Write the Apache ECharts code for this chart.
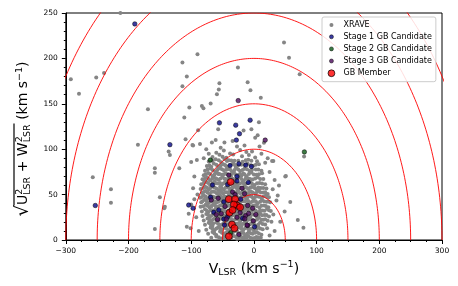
<!DOCTYPE html>
<html><head><meta charset="utf-8">
<script src="https://cdn.jsdelivr.net/npm/echarts@6/dist/echarts.min.js"></script>
<style>html,body{margin:0;padding:0;background:#fff}#c{width:458px;height:286px}</style>
</head><body><div id="c"></div>
<script>
// ---- axis ticks ----
const xTicks = [-300, -200, -100, 0, 100, 200, 300];
const yTicks = [0, 50, 100, 150, 200, 250];
// Toomre circles (constant total velocity), km/s
const circleRadii = [50, 100, 150, 200, 250, 300, 350];

// ---- series values: [V_LSR, sqrt(U^2+W^2)] ----
const xraveOutliers = [
  [-292,177],[-279,161],[-251.5,179],[-239,184],[-213,250],[-169,144],[-185,105],[-257,69],[-228,56],[-228,41],
  [-158,79],[-158,74],[-150,47],[-158,12],[-103,146],[-111,135],[-136,97.5],[-134,93.5],[-98,104.5],[-100,86],
  [-119,79],[-143,35],[-142,36.5],[-100,39],[-104,29],[-107,14.6],[-101,13],[-97,57],[-114,195.5],[-107,180],
  [-114,169.4],[-25.5,190],[73,182.6],[-55,172.7],[-10,173.8],[-56,165.7],[-5.5,165],[-59,160.6],[11,156.6],[-69,150.4],
  [-83,147.7],[-80.5,145],[8,129.8],[-57,122],[-89,121],[-16.5,120.6],[-4,122],[6,115.5],[-67,107.5],[-86,105.6],
  [-97,104],[-47,107.5],[-34,109],[-53,101.6],[-76,100],[9,103],[16,107],[2,112.5],[48,217.5],[56,200.6],
  [80,92],[31,87],[50,70],[51,70.5],[36,43.6],[49,31.5],[33,10],[-90,204.6],[29,87],[79,13.5],
  [58,41.8],[70,22],[22,90],[25,75],[40,60],[30,56],[31,28],[42,20],[38,49],[-95,70],
  [-92,25],[-90,50],[28,20],[-88,10],[25,5],[-95,45],[18,85],[-80,90],[-72,95],[12,95],
  [-109,111],[-91,88],[-27,103],[-15,104],[-61,110],[33,66]
];
const xraveCore = [
  [-60,96.2],[-48,98.5],[-38,95.4],[-22,99.1],[-12,96.8],[-3,97.6],
  [-66,91.3],[-55,93.8],[-44,90.6],[-33,94.2],[-19,92.1],[-8,93.5],[2,90.9],[-50,91.7],
  [-72,86.4],[-61,88.9],[-52,85.7],[-47,89.3],[-31,87.2],[-18,86.1],[-9,88.4],[5,86.8],[-40,87.9],
  [-75,81.6],[-64,84.2],[-57,80.9],[-49,83.5],[-44,81.2],[-33,84.7],[-29,80.4],[-20,82.8],[-10,84.1],[-1,81.9],[8,83.3],[-68,80.7],
  [-78,76.3],[-70,78.8],[-62,75.6],[-54,79.1],[-48,76.9],[-41,78.2],[-35,75.4],[-28,79.6],[-22,76.1],[-15,78.5],[-7,75.9],[3,77.7],[12,76.4],[-58,77.3],
  [-80,71.2],[-73,73.9],[-66,70.5],[-59,74.1],[-51,71.8],[-45,73.3],[-38,70.9],[-32,74.6],[-25,71.5],[-17,73.1],[-12,70.3],[-4,74.4],[4,71.9],[13,73.6],[-55,72.6],[-20,70.8],
  [-82,66.8],[-75,69.2],[-69,65.5],[-61,68.1],[-56,66.3],[-50,69.6],[-43,65.9],[-36,68.7],[-30,66.1],[-23,69.3],[-16,65.4],[-9,67.8],[-2,66.5],[6,69.1],[15,67.2],[-64,68.9],[-47,67.4],
  [-84,61.5],[-76,63.8],[-70,60.7],[-63,64.2],[-57,62.1],[-52,60.3],[-46,63.6],[-39,61.2],[-33,64.6],[-26,60.9],[-19,63.1],[-14,61.8],[-6,64.3],[1,60.6],[9,62.7],[18,61.4],[-79,64.5],[-30,62.4],
  [-85,56.2],[-78,58.7],[-72,55.5],[-66,59.1],[-60,56.8],[-54,58.3],[-48,55.7],[-42,59.4],[-37,56.5],[-31,58.9],[-25,55.3],[-20,57.6],[-15,59.7],[-9,56.1],[-3,58.4],[4,55.9],[11,57.3],[20,56.6],[-57,55.1],[-27,59.2],
  [-83,51.8],[-77,54.1],[-71,50.6],[-65,53.4],[-59,51.2],[-53,54.6],[-49,50.9],[-43,52.7],[-38,54.3],[-32,50.5],[-27,53.1],[-22,51.6],[-17,54.8],[-11,50.8],[-5,53.7],[2,51.3],[8,54.2],[15,52.4],[22,50.7],[-62,52.9],[-36,51.5],[-8,52.2],
  [-86,46.4],[-80,48.9],[-74,45.6],[-68,48.2],[-62,46.9],[-55,49.5],[-51,45.8],[-46,47.7],[-40,49.2],[-35,46.1],[-29,48.6],[-24,45.4],[-19,47.9],[-13,46.7],[-7,49.4],[-1,45.9],[5,48.1],[12,46.3],[19,49.1],[24,47.2],[-44,45.3],[-15,49.8],
  [-84,41.7],[-79,44.3],[-72,40.8],[-66,43.5],[-60,41.2],[-54,44.1],[-49,40.6],[-45,42.9],[-38,44.6],[-33,41.4],[-28,43.8],[-22,40.9],[-17,42.6],[-12,44.7],[-6,41.1],[0,43.2],[6,40.5],[13,44.4],[20,42.1],[26,41.6],[-57,42.8],[-25,44.2],
  [-85,36.6],[-77,38.9],[-71,35.7],[-65,39.3],[-59,36.2],[-53,38.4],[-47,35.5],[-41,37.8],[-36,39.6],[-31,36.4],[-26,38.7],[-20,35.9],[-15,37.5],[-10,39.1],[-4,36.8],[2,38.3],[9,35.4],[16,37.9],[23,36.1],[-68,37.2],[-43,39.8],[-8,35.2],
  [-83,31.4],[-78,33.9],[-73,30.6],[-66,32.8],[-61,34.5],[-55,31.1],[-50,33.6],[-44,30.4],[-38,32.9],[-33,34.7],[-27,31.3],[-23,33.2],[-18,30.8],[-12,34.1],[-6,31.7],[0,33.4],[7,30.5],[14,32.6],[21,34.3],[27,31.9],[-48,31.8],[-15,33.7],
  [-82,26.3],[-76,28.6],[-70,25.7],[-64,29.2],[-58,26.9],[-52,28.1],[-47,25.4],[-41,29.5],[-35,26.6],[-29,28.8],[-24,25.9],[-19,29.4],[-14,27.1],[-8,25.5],[-2,28.7],[4,26.2],[10,29.1],[17,27.6],[24,25.8],[-61,27.8],[-32,29.7],
  [-80,21.5],[-74,23.8],[-68,20.6],[-62,24.3],[-56,21.9],[-50,23.2],[-45,20.8],[-39,24.6],[-33,21.4],[-28,23.6],[-22,20.3],[-17,24.1],[-11,21.8],[-5,23.4],[1,20.9],[8,24.4],[15,22.2],[22,21.1],[-53,24.8],[-36,22.7],[-20,22.9],
  [-78,16.7],[-72,18.9],[-66,15.6],[-60,19.2],[-54,16.3],[-48,18.5],[-43,15.9],[-37,19.6],[-31,16.8],[-26,18.1],[-20,15.4],[-15,19.3],[-9,16.5],[-3,18.7],[3,15.8],[10,19.4],[18,17.2],[-65,18.1],[-41,17.4],[-12,17.9],
  [-76,11.4],[-69,13.8],[-63,10.7],[-57,14.1],[-51,11.9],[-46,13.3],[-40,10.5],[-34,14.4],[-28,11.6],[-23,13.9],[-17,10.9],[-12,14.6],[-6,12.2],[0,10.3],[7,13.7],[14,11.8],[21,12.9],[-60,12.6],[-30,13.1],
  [-73,6.8],[-66,8.9],[-60,5.6],[-54,9.3],[-48,6.4],[-42,8.6],[-37,5.9],[-31,9.5],[-25,6.7],[-20,8.2],[-14,5.3],[-8,9.1],[-2,6.9],[5,8.4],[12,5.8],[-45,7.7],[-27,9.8],
  [-68,2.4],[-60,3.9],[-52,1.6],[-45,4.2],[-39,2.1],[-33,4.6],[-27,1.3],[-21,3.5],[-15,2.8],[-9,4.4],[-3,1.9],[4,3.2],[11,2.6],[-48,3.1],[-30,3.8]
];
const xraveCoreFill = [
  [-56,2.9],[-42,2.4],[-36,2.8],[-24,2.2],[-18,2.7],[-12,2.1],[-6,2.6],[1,2.3],[7,2.8],
  [-63,7.2],[-51,7.9],[-40,7.1],[-34,7.6],[-23,7.3],[-17,7.8],[-11,7.0],[-5,7.5],[2,7.9],[8,7.2],
  [-66,12.4],[-54,12.8],[-43,12.1],[-37,12.7],[-31,11.9],[-20,12.5],[-14,12.9],[-9,12.0],[-3,12.6],[4,12.3],[10,12.7],
  [-69,17.3],[-57,17.9],[-51,17.1],[-45,17.7],[-34,17.2],[-28,17.8],[-23,17.0],[-18,17.6],[-6,17.3],[0,17.9],[7,17.2],[14,17.6],
  [-71,22.4],[-65,22.8],[-59,22.1],[-47,22.6],[-42,22.0],[-30,22.5],[-25,22.9],[-14,22.2],[-8,22.7],[-2,22.1],[5,22.6],[12,22.3],[18,22.8],
  [-73,27.6],[-67,27.2],[-55,27.9],[-49,27.3],[-44,27.7],[-38,27.1],[-32,27.5],[-27,27.0],[-21,27.8],[-16,27.3],[-11,27.7],[-5,27.1],[1,27.5],[7,27.9],[13,27.2],[20,27.6],
  [-75,32.3],[-69,32.7],[-63,32.1],[-58,32.9],[-53,32.4],[-47,32.0],[-41,32.6],[-35,32.2],[-30,32.8],[-25,32.3],[-20,32.7],[-15,32.0],[-9,32.5],[-3,32.9],[3,32.2],[10,32.6],[17,32.1],[24,32.9],
  [-81,37.2],[-74,37.8],[-68,37.3],[-62,37.9],[-56,37.1],[-50,37.6],[-44,37.2],[-38,37.9],[-33,37.4],[-29,37.0],[-23,37.7],[-18,37.3],[-12,37.9],[-7,37.2],[-1,37.6],[5,37.1],[12,37.8],[19,37.4],
  [-82,42.6],[-75,42.2],[-69,42.9],[-63,42.4],[-57,42.0],[-51,42.7],[-47,42.3],[-41,42.8],[-36,42.1],[-30,42.6],[-25,42.0],[-19,42.8],[-14,42.3],[-9,42.9],[-3,42.2],[3,42.7],[10,42.1],[16,42.8],[23,42.4],
  [-83,47.3],[-77,47.8],[-71,47.1],[-65,47.6],[-58,47.2],[-53,47.9],[-48,47.4],[-43,47.0],[-37,47.7],[-32,47.3],[-27,47.9],[-21,47.2],[-16,47.6],[-10,47.1],[-4,47.8],[2,47.3],[8,47.7],[15,47.9],[21,47.4],
  [-80,52.8],[-74,52.3],[-68,52.9],[-56,52.4],[-51,52.0],[-46,52.7],[-40,52.2],[-34,52.8],[-30,52.1],[-25,52.6],[-19,52.3],[-14,52.9],[-2,52.4],[5,52.8],[11,52.2],[18,52.6],
  [-81,57.4],[-75,57.9],[-69,57.2],[-63,57.7],[-51,57.1],[-45,57.6],[-40,57.2],[-34,57.9],[-28,57.3],[-22,57.8],[-18,57.1],[-12,57.5],[-6,57.9],[1,57.3],[7,57.8],[15,57.2],
  [-80,62.3],[-73,62.8],[-66,62.1],[-60,62.6],[-54,62.9],[-49,62.2],[-43,62.7],[-36,62.1],[-28,62.8],[-23,62.3],[-17,62.9],[-10,62.4],[-3,62.0],[5,62.6],[13,62.2],
  [-78,67.6],[-72,67.2],[-66,67.9],[-59,67.3],[-53,67.7],[-45,67.1],[-40,67.6],[-33,67.2],[-27,67.8],[-20,67.3],[-13,67.7],[-6,67.1],[2,67.6],[10,67.2],
  [-77,72.3],[-70,72.8],[-63,72.1],[-57,72.7],[-48,72.4],[-42,72.0],[-35,72.6],[-29,72.2],[-22,72.8],[-15,72.3],[-8,72.7],[0,72.1],[8,72.5],
  [-74,77.6],[-66,77.2],[-51,77.8],[-44,77.3],[-38,77.7],[-31,77.1],[-25,77.6],[-18,77.2],[-11,77.8],[-3,77.3],[7,77.7],
  [-71,82.4],[-60,82.8],[-53,82.1],[-46,82.6],[-38,82.3],[-31,82.8],[-25,82.2],[-15,82.7],[-5,82.3],[3,82.8],
  [-66,87.3],[-56,87.8],[-43,87.1],[-36,87.6],[-25,87.4],[-13,87.9],[-4,87.2]
];
const stage1 = [
  [-190,238],[-253,38],[-134,105],[-104,38.5],[-97,35],[-55,129],[-29,126.5],[-6,132],[-23,117],[-28,110],
  [-38,82],[-24,84],[-4,81],[-13,82.5],[-66,60.5],[-42,61],[-27,70],[-9,63.4],[-64,30.5],[-69,47],
  [-56,33],[-48,23],[-42,25.6],[-47,16.5],[-18,24],[-21,45],[1,14.6],[-48,42],[-27,65]
];
const stage2 = [[-69.5,88],[80.5,97],[-37,8]];
const stage3 = [
  [-25,153.5],[18,110],[-40,71.5],[-19,57],[-34,53],[-15,51],[-57,46],[-46,37],[-23,36],[-22,30],
  [-13,27],[-14.5,23.4],[-10,16],[-27,25],[-44,23],[3,28],[-60,28],[-52,29],[-24,6],[-10,38],
  [-2,35],[-8.6,29.3],[-1,21],[-11,16.5],[-58,22.7],[-68,44],[-30,50]
];
const gbMember = [
  [-37,64],[-40,45],[-30,45],[-27,38],[-32,39],[-39,30],[-22,36],[-35,17],[-31,13],[-40,4],[-34,33]
];

const seriesNames = ['XRAVE','Stage 1 GB Candidate','Stage 2 GB Candidate','Stage 3 GB Candidate','GB Member'];
const smallDot = 'path://M0,0M10,10M3,5A2,2,0,1,1,7,5A2,2,0,1,1,3,5Z';
const bigDot = 'path://M0,0M10,10M1.6,5A3.4,3.4,0,1,1,8.4,5A3.4,3.4,0,1,1,1.6,5Z';

const circleSeries = circleRadii.map(r => {
  const pts = [];
  for (let a = 0; a <= 180; a += 1) {
    const t = a * Math.PI / 180;
    pts.push([r * Math.cos(t), r * Math.sin(t)]);
  }
  return {type:'line', data:pts, showSymbol:false, symbol:'none', silent:true, z:3,
    lineStyle:{color:'#ff0000', width:0.9}, clip:true};
});

const chart = echarts.init(document.getElementById('c'));
const FF = 'DejaVu Sans';
const minus = v => v < 0 ? '\u2212' + Math.abs(v) : String(v);

chart.setOption({
  animation:false,
  backgroundColor:'#fff',
  grid:{left:61, right:16, top:13, bottom:46, show:true, borderColor:'#000', borderWidth:1, backgroundColor:'transparent'},
  xAxis:{
    type:'value', min:xTicks[0], max:xTicks[xTicks.length-1], interval:100,
    axisLine:{show:true, onZero:false, lineStyle:{color:'#000', width:1}},
    axisTick:{show:true, length:4, lineStyle:{color:'#000', width:1}},
    minorTick:{show:true, splitNumber:4, length:2, lineStyle:{color:'#000', width:1}},
    splitLine:{show:false},
    axisLabel:{fontSize:7.5, color:'#000', fontFamily:FF, margin:7, formatter:minus},
    name:'{v|V}{sub|LSR}{t| (km s}{sup|\u22121}{t|)}',
    nameLocation:'middle', nameGap:17,
    nameTextStyle:{fontFamily:FF, color:'#000', rich:{
      v:{fontSize:14, fontFamily:FF, lineHeight:18},
      t:{fontSize:14, fontFamily:FF, lineHeight:18},
      sub:{fontSize:9.5, fontFamily:FF, lineHeight:10, verticalAlign:'bottom'},
      sup:{fontSize:9.5, fontFamily:FF, lineHeight:10, verticalAlign:'top'}
    }}
  },
  yAxis:{
    type:'value', min:yTicks[0], max:yTicks[yTicks.length-1], interval:50,
    axisLine:{show:true, onZero:false, lineStyle:{color:'#000', width:1}},
    axisTick:{show:true, length:4, lineStyle:{color:'#000', width:1}},
    minorTick:{show:true, splitNumber:5, length:2, lineStyle:{color:'#000', width:1}},
    splitLine:{show:false},
    axisLabel:{fontSize:7.5, color:'#000', fontFamily:FF, margin:8},
    name:'{sp|}{bar|}\n{rad|\u221a}{t|U}{sup|2}{sub|LSR}{t| + W}{sup|2}{sub|LSR}{t| (km s}{sup2|\u22121}{t|)}',
    nameLocation:'middle', nameGap:26, nameRotate:90,
    nameTextStyle:{fontFamily:FF, color:'#000', padding:[0,0,0,-25], rich:{
      sp:{width:11, height:1.2, lineHeight:1.2, align:'left'},
      bar:{width:82, height:1.2, lineHeight:1.2, backgroundColor:'#000', align:'left'},
      rad:{fontSize:18, fontFamily:FF, lineHeight:18, align:'left', verticalAlign:'bottom'},
      t:{fontSize:14, fontFamily:FF, lineHeight:18, align:'left'},
      sup:{fontSize:9.5, fontFamily:FF, lineHeight:10, verticalAlign:'top', width:0.1, align:'left'},
      sup2:{fontSize:9.5, fontFamily:FF, lineHeight:10, verticalAlign:'top', align:'left'},
      sub:{fontSize:9.5, fontFamily:FF, lineHeight:10, verticalAlign:'bottom', align:'left'}
    }}
  },
  legend:{
    orient:'vertical', left:322, top:17,
    itemWidth:14, itemHeight:10, itemGap:1.5,
    padding:[3,4,3,4],
    borderColor:'#cccccc', borderWidth:1, borderRadius:2,
    backgroundColor:'rgba(255,255,255,0.85)',
    textStyle:{fontSize:8, color:'#000', fontFamily:FF},
    data:[
      {name:seriesNames[0], icon:smallDot, itemStyle:{borderWidth:0}},
      {name:seriesNames[1], icon:smallDot, itemStyle:{borderWidth:0.6}},
      {name:seriesNames[2], icon:smallDot, itemStyle:{borderWidth:0.6}},
      {name:seriesNames[3], icon:smallDot, itemStyle:{borderWidth:0.6}},
      {name:seriesNames[4], icon:bigDot, itemStyle:{borderWidth:0.9}}
    ]
  },
  series:[
    {name:seriesNames[0], type:'scatter', data:xraveCore.concat(xraveCoreFill, xraveOutliers), symbolSize:4, z:2,
      itemStyle:{color:'#858585', opacity:1}},
    ...circleSeries,
    {name:seriesNames[1], type:'scatter', data:stage1, symbolSize:4.5, z:4,
      itemStyle:{color:'#0a0a8a', borderColor:'#000', borderWidth:0.6}},
    {name:seriesNames[2], type:'scatter', data:stage2, symbolSize:4.5, z:4,
      itemStyle:{color:'#0b5a14', borderColor:'#000', borderWidth:0.6}},
    {name:seriesNames[3], type:'scatter', data:stage3, symbolSize:4.5, z:4,
      itemStyle:{color:'#4e0a5e', borderColor:'#000', borderWidth:0.6}},
    {name:seriesNames[4], type:'scatter', data:gbMember, symbolSize:7, z:5,
      itemStyle:{color:'#ff0000', borderColor:'#000', borderWidth:0.8}}
  ]
});
</script></body></html>
